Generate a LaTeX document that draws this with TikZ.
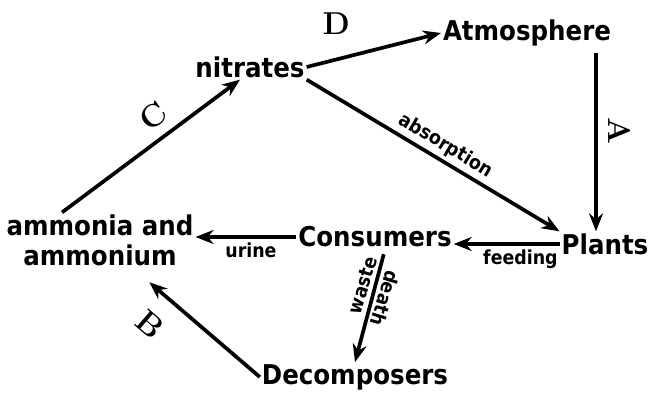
\documentclass[tikz,border=0pt]{standalone}
\usepackage{fontspec}
\setsansfont{DejaVu Sans Condensed}
\usepackage{tikz}
\usetikzlibrary{arrows.meta, positioning, calc}
\definecolor{ink}{HTML}{000000}
\definecolor{paper}{HTML}{FFFFFF}
\tikzset{
  pool/.style  ={font=\sffamily\bfseries\fontsize{15.5}{17}\selectfont, text=ink,
                 inner sep=1pt, align=center},
  flow/.style  ={-{Stealth[length=3.6mm,width=2.8mm]}, line width=2.1pt, draw=ink},
  tag/.style   ={font=\sffamily\bfseries\fontsize{11}{11}\selectfont, text=ink, inner sep=2pt},
  letter/.style={font=\rmfamily\bfseries\fontsize{18}{18}\selectfont, text=ink, inner sep=2pt}
}
\begin{document}
\begin{tikzpicture}
  \useasboundingbox[fill=paper] (0,0) rectangle (13,7.88);

  \node[pool] (nitrates)    at (5.0,6.54)  {nitrates};
  \node[pool] (Atmosphere)  at (10.54,7.22) {Atmosphere};
  \node[pool] (Plants)      at (12.1,3.0)  {Plants};
  \node[pool] (Consumers)   at (7.5,3.14)  {Consumers};
  \node[pool] (ammonia)     at (2.0,3.08)  {ammonia and\\ammonium};
  \node[pool] (Decomposers) at (7.1,0.34)  {Decomposers};

  \coordinate (drop) at ([xshift=-0.18cm]Plants.north);

  \draw[flow] (nitrates.east) -- node[letter, pos=0.22, above=0.4cm] {D} (Atmosphere.west);
  \draw[flow, shorten <=0.1cm] (drop |- Atmosphere.south) -- node[letter, sloped, above=0.15cm, pos=0.45] {A} (drop);
  \draw[flow] (nitrates.south east) -- node[tag, sloped, above, pos=0.52] {absorption} (Plants.north west);
  \draw[flow] (Plants.west) -- node[tag, below, pos=0.37] {feeding} (Plants.west -| Consumers.east);
  \draw[flow] (Consumers.west) -- node[tag, below, pos=0.45] {urine} (Consumers.west -| ammonia.east);
  \draw[flow, shorten <=0.1cm] ([xshift=0.2cm]Consumers.south) --
    node[tag, pos=0.35, rotate=73, anchor=south] {waste}
    node[tag, pos=0.4, rotate=-107, anchor=south] {death} (Decomposers.north);
  \draw[flow, shorten >=0.45cm] (Decomposers.west) -- node[letter, sloped, below=0.3cm, pos=0.7] {B} (ammonia);
  \draw[flow] ([xshift=-0.76cm]ammonia.north) -- node[letter, sloped, above=0.12cm, pos=0.59] {C} ([xshift=-0.2cm]nitrates.south);
\end{tikzpicture}
\end{document}
